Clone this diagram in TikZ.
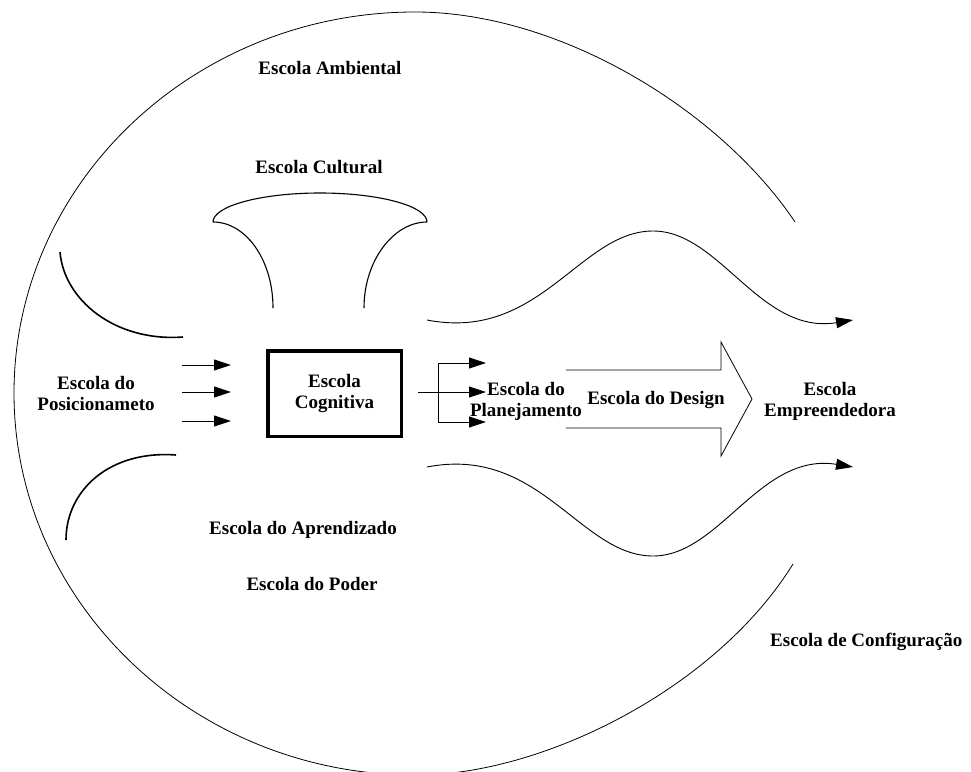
\documentclass[tikz,border=0pt]{standalone}
\usepackage{fontspec}
\setmainfont{Liberation Serif}
\usetikzlibrary{arrows.meta}
\begin{document}
\begin{tikzpicture}[x=1pt,y=-1pt,
  lbl/.style={font=\bfseries\fontsize{19}{21}\selectfont, align=center, inner sep=0pt},
  thinline/.style={line width=0.8pt},
  arcline/.style={line width=1.6pt},
  cupline/.style={line width=1.1pt},
  arr/.style={line width=0.9pt, -{Triangle[length=17pt,width=11pt]}},
  boxstyle/.style={draw, line width=3.5pt, minimum width=133.5pt, minimum height=85.5pt}]
\useasboundingbox (0,0) rectangle (971,771);
\clip (0,0) rectangle (971,771);

% big outer curve
\coordinate (c1) at (795,222);
\coordinate (c2) at (415,12);
\coordinate (c3) at (14,393);
\coordinate (c4) at (415,775);
\coordinate (c5) at (793,564);
\draw[thinline] (c1) .. controls (720,110) and (560,12) .. (c2)
  .. controls (194,12) and (14,183) .. (c3)
  .. controls (14,603) and (194,775) .. (c4)
  .. controls (540,776) and (715,690) .. (c5);

% labels
\node[lbl] (amb) at (330,68) {Escola Ambiental};
\node[lbl] (cult) at (319,167) {Escola Cultural};
\node[lbl] (pos) at (96,393) {Escola do\\Posicionameto};
\node[lbl] (plan) at (526,401) {Escola do\\Planejamento};
\node[lbl] (des) at (656,400) {Escola do Design};
\node[lbl] (emp) at (830,401) {Escola\\Empreendedora};
\node[lbl] (apr) at (303,530) {Escola do Aprendizado};
\node[lbl] (pod) at (312,584) {Escola do Poder};
\node[lbl, anchor=west] (conf) at (770,642) {Escola de Configuração};

% cognitive box
\node[boxstyle, lbl] (cog) at (334.5,393.5) {Escola\\Cognitiva};

% cultural cup shape
\coordinate (k1) at (213,222);
\coordinate (k2) at (427,222);
\coordinate (k3) at (273,308);
\coordinate (k4) at (364,308);
\draw[cupline] (k1) .. controls (213,206) and (261,193) .. (320,193)
  .. controls (379,193) and (427,206) .. (k2);
\draw[cupline] (k1) .. controls (246,222) and (273,260) .. (k3);
\draw[cupline] (k2) .. controls (394,222) and (364,260) .. (k4);

% left arcs
\coordinate (la1) at (60,252);
\coordinate (la2) at (183,337);
\draw[arcline] (la1) .. controls (64,300) and (115,342) .. (la2);
\coordinate (lb1) at (66,540);
\coordinate (lb2) at (176,455);
\draw[arcline] (lb1) .. controls (66,490) and (110,450) .. (lb2);

% input arrows
\coordinate (i1s) at (182,365); \coordinate (i1e) at (231,365);
\coordinate (i2s) at (182,392); \coordinate (i2e) at (231,392);
\coordinate (i3s) at (182,421); \coordinate (i3e) at (231,421);
\draw[arr] (i1s) -- (i1e);
\draw[arr] (i2s) -- (i2e);
\draw[arr] (i3s) -- (i3e);

% branching output arrows
\coordinate (m0) at (418,392);
\coordinate (bt) at (438,363);
\coordinate (bb) at (438,422);
\coordinate (e1) at (486,363);
\coordinate (e2) at (486,392);
\coordinate (e3) at (486,422);
\draw[thinline] (bt) -- (bb);
\draw[arr] (m0) -- (e2);
\draw[arr] (bt) -- (e1);
\draw[arr] (bb) -- (e3);

% big block arrow
\coordinate (ba1) at (566,370);
\coordinate (ba2) at (721,370);
\coordinate (ba3) at (721,342);
\coordinate (ba4) at (752,399);
\coordinate (ba5) at (721,456);
\coordinate (ba6) at (721,428);
\coordinate (ba7) at (566,428);
\draw[thinline] (ba1) -- (ba2) -- (ba3) -- (ba4) -- (ba5) -- (ba6) -- (ba7);

% wave arrows
\coordinate (w1s) at (427,320);
\coordinate (w1p) at (653,231);
\coordinate (w1e) at (853,320);
\draw[arr] (w1s) .. controls (540,342) and (580,231) .. (w1p)
  .. controls (720,231) and (760,335) .. (w1e);
\coordinate (w2s) at (427,467);
\coordinate (w2p) at (653,556);
\coordinate (w2e) at (853,467);
\draw[arr] (w2s) .. controls (540,445) and (580,556) .. (w2p)
  .. controls (720,556) and (760,452) .. (w2e);
\end{tikzpicture}
\end{document}
